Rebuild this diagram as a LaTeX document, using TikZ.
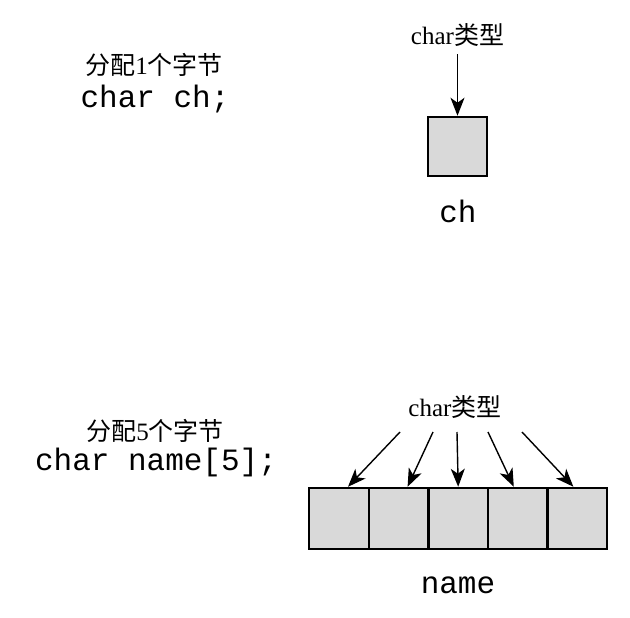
\documentclass[tikz,border=0pt]{standalone}
\usepackage{fontspec}
\setmainfont{Liberation Serif}
\setmonofont{Liberation Mono}
\newfontfamily\cjk{Noto Sans CJK SC}
\usetikzlibrary{arrows.meta,positioning}
\definecolor{boxgray}{RGB}{217,217,217}

\begin{document}
\begin{tikzpicture}[x=1pt,y=-1pt,
  cell/.style={draw,line width=2.5pt,fill=boxgray,minimum width=59.6pt,minimum height=60pt,inner sep=0pt},
  ptr/.style={line width=1.4pt,-{Stealth[length=18pt,width=14pt,inset=5pt]}},
  code/.style={font=\fontsize{31}{33}\ttfamily,anchor=base,inner sep=0pt},
  note/.style={font=\fontsize{25}{27}\selectfont,anchor=base,inner sep=0pt}]
\useasboundingbox (0,0) rectangle (630,618);
% one byte
\node[note] (alloc1) at (154,75) {{\cjk 分配}1{\cjk 个字节}};
\node[code] (decl1) at (155,107) {char ch;};
\node[note] (type1) at (457.5,45) {char{\cjk 类型}};
\node[cell,minimum width=59pt,minimum height=59pt] (ch) at (457.5,146.5) {};
\node[code] (chname) at (458,222) {ch};
\draw[ptr] ([yshift=-7pt]type1.south) -- (ch.north);
% five bytes
\node[note] (alloc5) at (155,440) {{\cjk 分配}5{\cjk 个字节}};
\node[code] (decl5) at (156,470) {char name[5];};
\node[note] (type5) at (455,416) {char{\cjk 类型}};
\foreach \i in {1,...,5}
  \node[cell,minimum height=61pt] (c\i) at ({279.4+59.6*\i},518.5) {};
\node[code] (arrname) at (458,593) {name};
\foreach \i/\sx/\dx in {1/400/9,2/433/9,3/457/0,4/488/-4,5/522/-4}{
  \coordinate (s\i) at (\sx,432);
  \draw[ptr] (s\i) -- ([xshift=\dx pt]c\i.north);
}
\end{tikzpicture}
\end{document}
